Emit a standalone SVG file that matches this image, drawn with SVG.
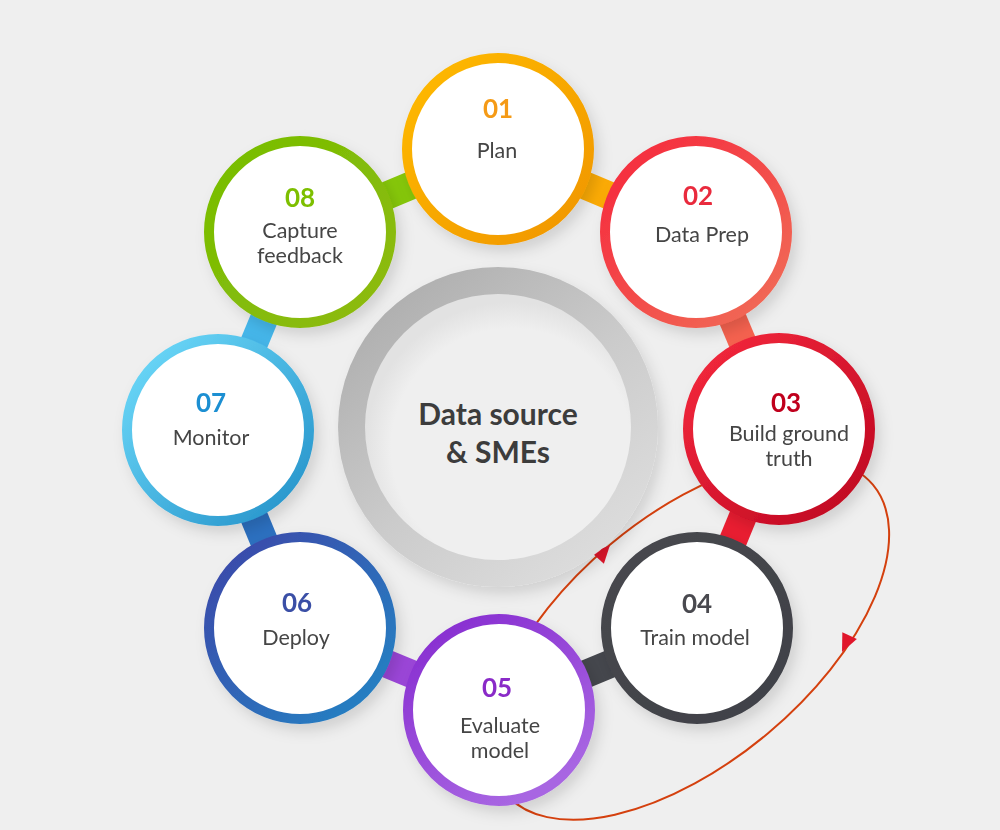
<svg xmlns="http://www.w3.org/2000/svg" width="1000" height="830" viewBox="0 0 1000 830">
<defs>
<style>
.ring{fill:#ffffff;stroke-width:10}
.num{font-family:Lato,"Open Sans","Liberation Sans",sans-serif;font-weight:700;font-size:26px;text-anchor:middle}
.lbl{font-family:Lato,"Open Sans","Liberation Sans",sans-serif;font-size:21.5px;fill:#454545;text-anchor:middle}
.ctr{font-family:Lato,"Open Sans","Liberation Sans",sans-serif;font-weight:700;font-size:30px;fill:#3c3c3c;text-anchor:middle}
.band{stroke-width:28;stroke-linecap:butt;fill:none}
.loop{fill:none;stroke:#d4400e;stroke-width:2}
</style>
<filter id="sh" x="-30%" y="-30%" width="160%" height="160%">
<feDropShadow dx="5" dy="7" stdDeviation="7" flood-color="#000" flood-opacity="0.13"/>
</filter>
<linearGradient id="g1" x1="0" y1="0" x2="1" y2="1"><stop offset="0" stop-color="#ffbb00"/><stop offset="1" stop-color="#f09505"/></linearGradient>
<linearGradient id="g2" x1="0" y1="0" x2="1" y2="1"><stop offset="0" stop-color="#f6263c"/><stop offset="1" stop-color="#f07058"/></linearGradient>
<linearGradient id="g3" x1="0" y1="0" x2="1" y2="1"><stop offset="0" stop-color="#f62a3e"/><stop offset="1" stop-color="#bc0620"/></linearGradient>
<linearGradient id="g4" x1="0" y1="0" x2="1" y2="1"><stop offset="0" stop-color="#47484e"/><stop offset="1" stop-color="#404147"/></linearGradient>
<linearGradient id="g5" x1="0" y1="0" x2="0.6" y2="1"><stop offset="0" stop-color="#8529cf"/><stop offset="1" stop-color="#a866e2"/></linearGradient>
<linearGradient id="g6" x1="0" y1="0" x2="1" y2="1"><stop offset="0" stop-color="#3d45a8"/><stop offset="1" stop-color="#2386c5"/></linearGradient>
<linearGradient id="g7" x1="0" y1="0" x2="1" y2="1"><stop offset="0" stop-color="#70dcfb"/><stop offset="1" stop-color="#2290c8"/></linearGradient>
<linearGradient id="g8" x1="0" y1="0" x2="1" y2="1"><stop offset="0" stop-color="#76be00"/><stop offset="1" stop-color="#8fba10"/></linearGradient>
<linearGradient id="gc" x1="0.15" y1="0.1" x2="0.85" y2="0.95"><stop offset="0" stop-color="#afafaf"/><stop offset="0.5" stop-color="#cbcbcb"/><stop offset="1" stop-color="#dedede"/></linearGradient>
<radialGradient id="gi" cx="0.55" cy="0.58" r="0.55"><stop offset="0.82" stop-color="#efefef"/><stop offset="1" stop-color="#e2e2e2"/></radialGradient>
<path id="ah" d="M0,0 L-18,-8 L-18,8 Z" fill="#e0162b"/>
</defs>
<rect width="1000" height="830" fill="#efefef"/>
<g id="connectors">
<line class="band" x1="300" y1="232" x2="498" y2="149" stroke="#86c70a"/>
<line class="band" x1="498" y1="149" x2="696" y2="232" stroke="#fcab05"/>
<line class="band" x1="696" y1="232" x2="779" y2="429" stroke="#f6624f"/>
<line class="band" x1="779" y1="429" x2="697" y2="628" stroke="#ea1d31"/>
<line class="band" x1="697" y1="628" x2="499" y2="710" stroke="#45474d"/>
<line class="band" x1="499" y1="710" x2="300" y2="628" stroke="#9b46d8"/>
<line class="band" x1="300" y1="628" x2="218" y2="430" stroke="#2c70c0"/>
<line class="band" x1="218" y1="430" x2="300" y2="232" stroke="#45b6ea"/>
<ellipse class="loop" cx="689" cy="639" rx="240" ry="123" transform="rotate(-40 689 639)"/>
<use href="#ah" transform="translate(610 545) rotate(-48)"/>
<use href="#ah" transform="translate(842 652) rotate(115)"/>
</g>
<g id="center">
<circle cx="498" cy="427" r="160" fill="url(#gc)" filter="url(#sh)"/>
<circle cx="498" cy="427" r="133" fill="url(#gi)"/>
<text class="ctr" x="498" y="425">Data source</text>
<text class="ctr" x="498" y="463">&amp; SMEs</text>
</g>
<g id="n01" filter="url(#sh)">
<circle class="ring" cx="498" cy="149" r="91" stroke="url(#g1)"/>
<text class="num" x="498" y="118" fill="#f59a12">01</text>
<text class="lbl" x="497" y="158">Plan</text>
</g>
<g id="n02" filter="url(#sh)">
<circle class="ring" cx="696" cy="232" r="91" stroke="url(#g2)"/>
<text class="num" x="698" y="205" fill="#e92a3d">02</text>
<text class="lbl" x="702" y="242">Data Prep</text>
</g>
<g id="n03" filter="url(#sh)">
<circle class="ring" cx="779" cy="429" r="91" stroke="url(#g3)"/>
<text class="num" x="786" y="412" fill="#c0001e">03</text>
<text class="lbl" x="789" y="441">Build ground</text>
<text class="lbl" x="789" y="466">truth</text>
</g>
<g id="n04" filter="url(#sh)">
<circle class="ring" cx="697" cy="628" r="91" stroke="url(#g4)"/>
<text class="num" x="697" y="613" fill="#4a4a4f">04</text>
<text class="lbl" x="695" y="645">Train model</text>
</g>
<g id="n05" filter="url(#sh)">
<circle class="ring" cx="499" cy="710" r="91" stroke="url(#g5)"/>
<text class="num" x="497" y="697" fill="#8a2cc8">05</text>
<text class="lbl" x="500" y="733">Evaluate</text>
<text class="lbl" x="500" y="758">model</text>
</g>
<g id="n06" filter="url(#sh)">
<circle class="ring" cx="300" cy="628" r="91" stroke="url(#g6)"/>
<text class="num" x="297" y="612" fill="#3a4fa6">06</text>
<text class="lbl" x="296" y="645">Deploy</text>
</g>
<g id="n07" filter="url(#sh)">
<circle class="ring" cx="218" cy="430" r="91" stroke="url(#g7)"/>
<text class="num" x="211" y="412" fill="#1b8fd2">07</text>
<text class="lbl" x="211" y="445">Monitor</text>
</g>
<g id="n08" filter="url(#sh)">
<circle class="ring" cx="300" cy="232" r="91" stroke="url(#g8)"/>
<text class="num" x="300" y="207" fill="#7dbf00">08</text>
<text class="lbl" x="300" y="238">Capture</text>
<text class="lbl" x="300" y="263">feedback</text>
</g>
</svg>
